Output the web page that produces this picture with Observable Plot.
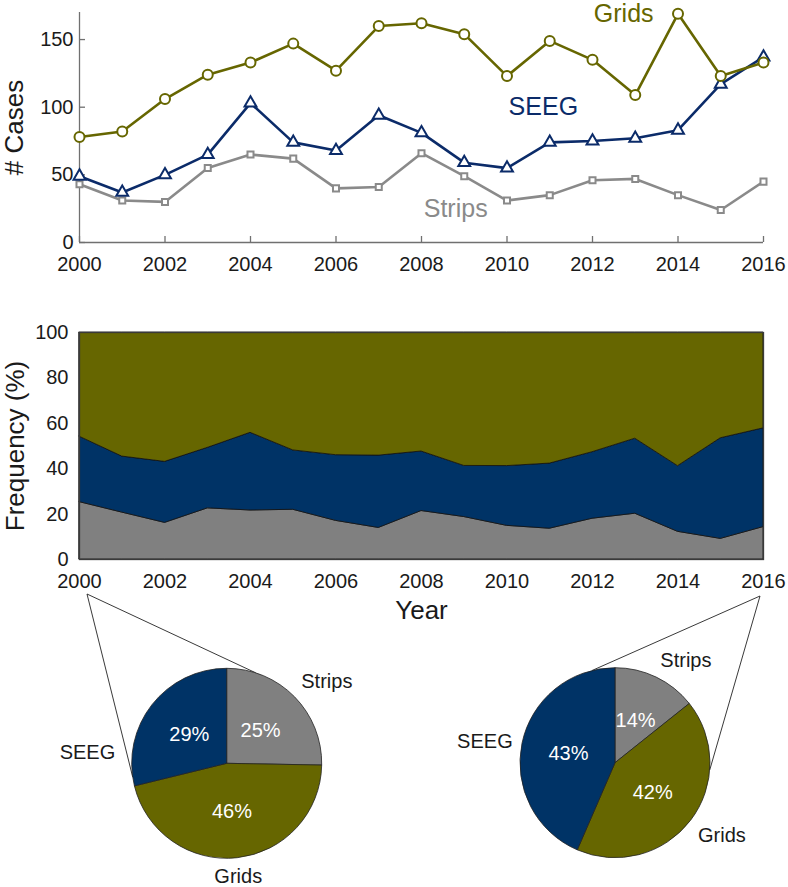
<!DOCTYPE html>
<html><head><meta charset="utf-8">
<script src="https://cdn.jsdelivr.net/npm/d3@7"></script>
<script src="https://cdn.jsdelivr.net/npm/@observablehq/plot@0.6"></script>
<style>
html,body{margin:0;padding:0;background:#fff;}
#wrap{position:relative;width:788px;height:887px;overflow:hidden;background:#fff;}
#wrap > svg{position:absolute;left:0;}
</style></head><body><div id="wrap"></div>
<script>
// ---------- data ----------
const years  = [2000,2001,2002,2003,2004,2005,2006,2007,2008,2009,2010,2011,2012,2013,2014,2015,2016];
const grids  = [78, 82,106,124,133,147,127,160,162,154,123,149,135,109,169,123,133];
const seeg   = [49, 37, 50, 65,103, 74, 68, 94, 81, 59, 55, 74, 75, 77, 83,117,137];
const strips = [43, 31, 30, 55, 65, 62, 40, 41, 66, 49, 31, 35, 46, 47, 35, 24, 45];
const seriesNames = ["Grids","SEEG","Strips"];
const drawOrder = ["Strips","SEEG","Grids"];
const pieOrder = ["Strips","Grids","SEEG"];
const xTicks = [2000,2002,2004,2006,2008,2010,2012,2014,2016];
const yTicksCases = [0,50,100,150];
const yTicksFreq = [0,20,40,60,80,100];
const pieYears = [2000,2016];

// ---------- styles ----------
const font = '"Liberation Sans", Arial, Helvetica, sans-serif';
const lineColors = {Grids:"#666600", SEEG:"#0b2b69", Strips:"#8a8a8a"};
const areaColors = {Grids:"#666600", SEEG:"#003366", Strips:"#808080"};
const axisGray = "#707070";
const textDark = "#1a1a1a";

const valuesBySeries = {Grids: grids, SEEG: seeg, Strips: strips};
const rows = drawOrder.flatMap(series => years.map((year, i) => ({year, series, value: valuesBySeries[series][i]})));
const wrap = document.getElementById("wrap");
const baseStyle = {fontFamily: font, fontSize: "20px", color: textDark, background: "transparent", overflow: "visible"};

// ---------- top: line chart ----------
const markerR = {Grids: 5, SEEG: 4.4, Strips: 3.4};
const markerSym = {Grids: "circle", SEEG: "triangle", Strips: "square"};
const topPlot = Plot.plot({
  width: 788, height: 290,
  marginLeft: 79, marginRight: 25, marginTop: 12, marginBottom: 48,
  style: baseStyle,
  x: {domain: [2000, 2016]},
  y: {domain: [0, 170]},
  color: {domain: seriesNames, range: seriesNames.map(s => lineColors[s])},
  marks: [
    Plot.ruleY([0], {stroke: axisGray, strokeWidth: 1.3}),
    Plot.ruleX([2000], {stroke: axisGray, strokeWidth: 1.3}),
    Plot.axisX({ticks: xTicks, tickSize: 6, dy: -6, tickFormat: () => "", stroke: axisGray, strokeWidth: 1.3, label: null}),
    Plot.axisY({ticks: yTicksCases, tickSize: 6, dx: 6, tickFormat: () => "", stroke: axisGray, strokeWidth: 1.3, label: null}),
    Plot.axisX({ticks: xTicks, tickSize: 0, tickPadding: 14, tickFormat: d => String(d), fill: textDark, label: null}),
    Plot.axisY({ticks: yTicksCases, tickSize: 0, tickPadding: 6, fill: textDark, label: null}),
    Plot.line(rows, {x: "year", y: "value", z: "series", stroke: "series", strokeWidth: 2.6}),
    ...drawOrder.map(s => Plot.dot(rows.filter(d => d.series === s), {
      x: "year", y: "value", stroke: "series", fill: "white", symbol: markerSym[s], r: markerR[s], strokeWidth: 2
    })),
    Plot.text(["Grids"], {x: 2012.73, y: 169, text: d => d, fill: lineColors.Grids, fontSize: 25}),
    Plot.text(["SEEG"], {x: 2010.85, y: 100, text: d => d, fill: lineColors.SEEG, fontSize: 25}),
    Plot.text(["Strips"], {x: 2008.8, y: 25, text: d => d, fill: lineColors.Strips, fontSize: 25}),
    Plot.text(["# Cases"], {frameAnchor: "left", textAnchor: "middle", lineAnchor: "middle", rotate: -90, dx: -65, text: d => d, fontSize: 26, fill: textDark})
  ]
});
topPlot.style.top = "0px";
wrap.appendChild(topPlot);

// ---------- middle: stacked percentage area ----------
const areaPlot = Plot.plot({
  width: 788, height: 330,
  marginLeft: 79, marginRight: 25, marginTop: 42, marginBottom: 61,
  style: baseStyle,
  x: {domain: [2000, 2016]},
  y: {domain: [0, 100], percent: true},
  color: {domain: seriesNames, range: seriesNames.map(s => areaColors[s])},
  marks: [
    Plot.areaY(rows, Plot.stackY({x: "year", y: "value", z: "series", fill: "series", offset: "normalize",
      order: ["Strips","SEEG","Grids"], stroke: "#111", strokeWidth: 0.8})),
    Plot.frame({stroke: "#3a3a3a", strokeWidth: 1.3}),
    Plot.axisX({ticks: xTicks, tickSize: 0, tickPadding: 14, tickFormat: d => String(d), fill: textDark, label: null}),
    Plot.axisY({ticks: yTicksFreq, tickSize: 0, tickPadding: 11, fill: textDark, label: null}),
    Plot.text(["Grids"], {x: 2000.54, y: 60, text: d => d, textAnchor: "start", fill: "white", fontSize: 25}),
    Plot.text(["SEEG"], {x: 2000.54, y: 33, text: d => d, textAnchor: "start", fill: "white", fontSize: 25}),
    Plot.text(["Strips"], {x: 2000.54, y: 12, text: d => d, textAnchor: "start", fill: "white", fontSize: 25}),
    Plot.text(["Frequency (%)"], {frameAnchor: "left", textAnchor: "middle", lineAnchor: "middle", rotate: -90, dx: -64, text: d => d, fontSize: 26, fill: textDark}),
    Plot.text(["Year"], {frameAnchor: "bottom", textAnchor: "middle", lineAnchor: "middle", dy: 51, text: d => d, fontSize: 26, fill: textDark})
  ]
});
areaPlot.style.top = "290px";
wrap.appendChild(areaPlot);

// ---------- bottom: pies ----------
const R = 95;
const pieLayout = [
  {cx: 226.7, cy: 173.3, startDx: 8, startY: 4, linkAngles: [261.8, 17.8], labelOverride: {SEEG: {angle: 276, rad: 1.18}}},
  {cx: 615, cy: 172.7, startDx: -3, startY: 6, linkAngles: [346, 94.4], labelOverride: {}}
];
const deg = Math.PI / 180;
function pieRender(index, scales, values, dims) {
  const g = d3.create("svg:g");
  const pieGen = d3.pie().sort(null).value(d => d.value);
  const arc = d3.arc().innerRadius(0).outerRadius(R);
  pieLayout.forEach((L, k) => {
    const yi = years.indexOf(pieYears[k]);
    const slices = pieOrder.map(name => ({name, value: valuesBySeries[name][yi]}));
    const total = d3.sum(slices, d => d.value);
    const arcs = pieGen(slices);
    // zoom lines
    const sx = (scales.x ? scales.x(pieYears[k]) : (k === 0 ? 79 : 763)) + L.startDx;
    L.linkAngles.forEach(a => {
      g.append("line").attr("x1", sx).attr("y1", L.startY)
        .attr("x2", L.cx + R * Math.sin(a * deg)).attr("y2", L.cy - R * Math.cos(a * deg))
        .attr("stroke", "#222").attr("stroke-width", 0.9);
    });
    const gp = g.append("g").attr("transform", `translate(${L.cx},${L.cy})`);
    gp.selectAll("path").data(arcs).join("path")
      .attr("d", arc).attr("fill", d => areaColors[d.data.name])
      .attr("stroke", "#222").attr("stroke-width", 0.8);
    arcs.forEach(d => {
      const mid = (d.startAngle + d.endAngle) / 2;
      // percentage inside
      gp.append("text")
        .attr("x", 0.5 * R * Math.sin(mid)).attr("y", -0.5 * R * Math.cos(mid))
        .attr("text-anchor", "middle").attr("dy", "0.35em")
        .attr("fill", "white").attr("font-size", 20).attr("font-family", font)
        .text(Math.round(100 * d.value / total) + "%");
      // name outside
      const ov = L.labelOverride[d.data.name];
      const a = ov ? ov.angle * deg : mid;
      const rad = (ov ? ov.rad : 1.1) * R;
      const sa = Math.sin(a), ca = Math.cos(a);
      const anchor = Math.abs(sa) < 0.2 ? "middle" : (sa > 0 ? "start" : "end");
      const dy = ca > 0.3 ? "-0.1em" : (ca < -0.3 ? "0.8em" : "0.35em");
      gp.append("text")
        .attr("x", rad * sa).attr("y", -rad * ca)
        .attr("text-anchor", anchor).attr("dy", dy)
        .attr("fill", textDark).attr("font-size", 20).attr("font-family", font)
        .text(d.data.name);
    });
  });
  return g.node();
}
const piePlot = Plot.plot({
  width: 788, height: 297,
  marginLeft: 79, marginRight: 25, marginTop: 0, marginBottom: 0,
  style: baseStyle,
  x: {domain: [2000, 2016], axis: null},
  marks: [
    Plot.ruleX(pieYears, {x: d => d, strokeOpacity: 0}),
    pieRender
  ]
});
piePlot.style.top = "590px";
wrap.appendChild(piePlot);
</script>
</body></html>
